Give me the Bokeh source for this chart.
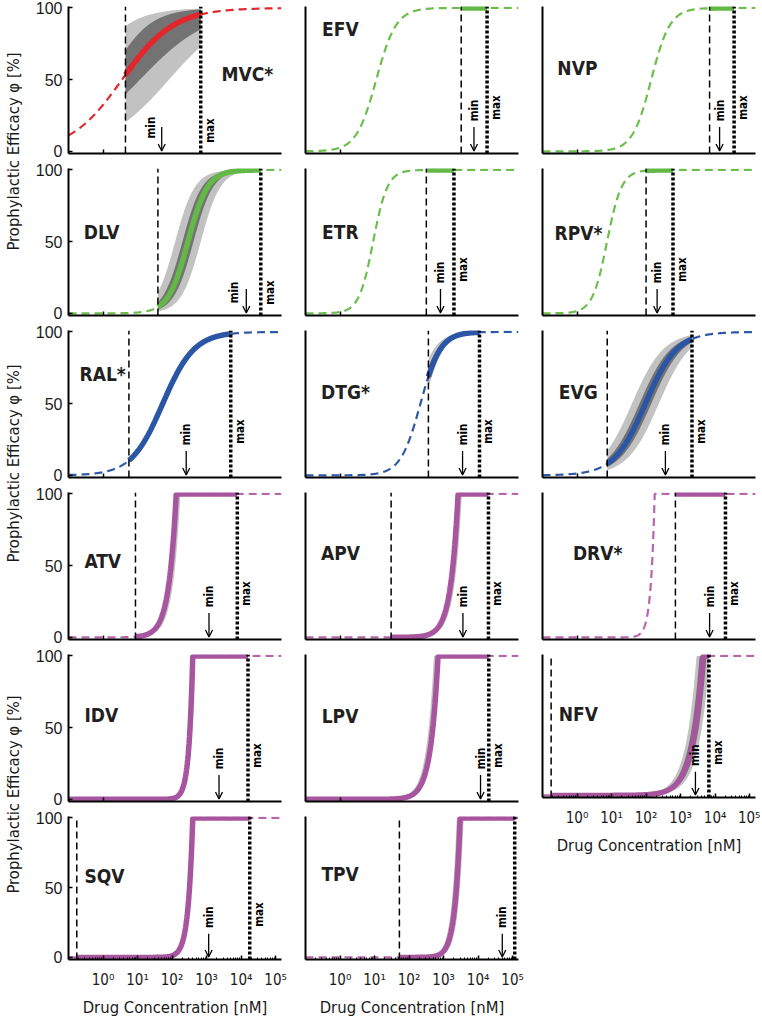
import numpy as np
from bokeh.plotting import figure
from bokeh.layouts import row, column
from bokeh.models import Range1d, FixedTicker, CustomJSTickFormatter, Arrow, OpenHead
from bokeh.core.properties import value
from bokeh.embed import file_html
from bokeh.resources import INLINE

# ---------------- data ----------------
drugs = ["MVC*", "EFV", "NVP", "DLV", "ETR", "RPV*", "RAL*", "DTG*", "EVG",
         "ATV", "APV", "DRV*", "IDV", "LPV", "NFV", "SQV", "TPV"]
drug_class = ["CCR5", "NNRTI", "NNRTI", "NNRTI", "NNRTI", "NNRTI", "INSTI", "INSTI", "INSTI",
              "PI", "PI", "PI", "PI", "PI", "PI", "PI", "PI"]
# log10 of curve midpoint [nM] (IC50 for Hill curves, saturation point for PI curves)
log_mid = [0.55, 1.05, 2.15, 2.46, 0.96, 0.87, 1.73, 2.33, 1.98,
           2.12, 3.42, 2.25, 2.60, 2.84, 3.65, 2.60, 3.48]
slope = [0.58, 1.5, 1.6, 1.52, 2.1, 2.05, 0.95, 1.5, 0.95,
         2.0, 2.0, 3.8, 3.8, 2.0, 1.4, 3.2, 2.8]
# dashed vertical line (lower conc.), dotted vertical line ("max"), arrow ("min")
log_dash_line = [0.65, 3.51, 3.84, 1.59, 2.50, 2.00, 0.75, 2.56, 0.875,
                 0.94, 1.48, 2.85, -1.4, -1.4, -0.75, -0.76, 1.72]
log_max_line = [2.83, 4.26, 4.55, 4.57, 3.30, 2.78, 3.70, 4.04, 3.33,
                3.89, 4.30, 4.30, 4.20, 4.31, 3.82, 4.25, 5.06]
log_min_arrow = [1.70, 3.88, 4.13, 4.15, 2.91, 2.32, 2.41, 3.55, 2.56,
                 3.07, 3.56, 3.84, 3.36, 4.07, 3.43, 3.06, 4.70]
# uncertainty bands: (lower-bound midpoint, slope, upper-bound midpoint, slope)
light_band = [(1.91, 0.47, -0.60, 0.67), None, None, (2.83, 1.52, 2.09, 1.52), None, None,
              (1.78, 0.95, 1.68, 0.95), (2.43, 1.5, 2.14, 1.5), (2.37, 0.95, 1.59, 0.95),
              (2.24, 2.0, 2.07, 2.0), (3.53, 2.0, 3.39, 2.0), None, (2.67, 3.8, 2.58, 3.8),
              (2.87, 2.0, 2.72, 2.0), (3.84, 1.4, 3.46, 1.4), None, (3.58, 2.8, 3.38, 2.8)]
dark_band = [(1.07, 0.43, 0.15, 0.75), None, None, (2.62, 1.52, 2.30, 1.52), None, None,
             None, (2.38, 1.5, 2.24, 1.5), (2.15, 0.95, 1.81, 0.95),
             None, None, None, None, None, (3.75, 1.4, 3.55, 1.4), None, (3.50, 2.8, 3.43, 2.8)]
x_tick_values = [1, 10, 100, 1000, 10000, 100000]
y_tick_values = [0, 50, 100]

# ---------------- layout / style (not data) ----------------
label_pos = [(3.43, 54), (-0.52, 85), (-0.57, 58), (-0.56, 57), (-0.52, 57), (-0.65, 56),
             (-0.68, 71), (-0.55, 58), (-0.53, 58), (-0.54, 53), (-0.55, 59), (-0.12, 59),
             (-0.54, 59), (-0.53, 58), (-0.53, 58), (-0.54, 58), (-0.54, 60)]
low_text = {0: (9, 6, -11), 3: (7, 6, -12)}   # panel -> (min text y, max text y, min text dx)

X0, X1 = -1.0, 5.17
Y0, Y1 = -1.5, 101
FRAME_W, FRAME_H = 213, 147
LAB_W = 30
COND = "DejaVu Sans Condensed"
REG = "Liberation Sans"
INK = "#1a1a1a"
solid_col = {"CCR5": "#e3262b", "NNRTI": "#63b846", "INSTI": "#2b56a6", "PI": "#a8559f"}
dash_col = {"CCR5": "#e3262b", "NNRTI": "#6bbd4c", "INSTI": "#2d58a8", "PI": "#b865ae"}
LIGHT, DARK = "#c2c2c2", "#737373"


def efficacy(lx, mid, m, kind):
    if kind == "PI":
        return np.minimum(100.0, 100.0 * 10 ** (m * (lx - mid)))
    return 100.0 / (1.0 + 10 ** (m * (mid - lx)))


def grid(a, b, mid, n=400):
    g = np.linspace(a, b, n)
    if a < mid < b:
        g = np.union1d(g, [mid])
    return g


def make_panel(i):
    r, c = divmod(i, 3)
    bottom = i >= 14
    lb = 38 if c == 0 else 12
    rb = 5 if c == 2 else 12
    tb = 6
    bb = 56 if bottom else 9
    p = figure(width=lb + FRAME_W + rb, height=tb + FRAME_H + bb, x_axis_type="log",
               x_range=Range1d(10 ** X0, 10 ** X1), y_range=Range1d(Y0, Y1),
               output_backend="svg", toolbar_location=None,
               min_border_left=lb, min_border_right=rb, min_border_top=tb, min_border_bottom=bb)
    p.grid.visible = False
    p.outline_line_color = None
    p.background_fill_color = "white"

    kind = "PI" if drug_class[i] == "PI" else "HILL"
    sc, dc = solid_col[drug_class[i]], dash_col[drug_class[i]]
    a = max(log_dash_line[i], X0)
    b = log_max_line[i]

    for band, colr in ((light_band[i], LIGHT), (dark_band[i], DARK)):
        if band is not None:
            g = np.linspace(a, b, 300)
            lo = efficacy(g, band[0], band[1], kind)
            hi = efficacy(g, band[2], band[3], kind)
            p.varea(x=10 ** g, y1=lo, y2=hi, fill_color=colr, fill_alpha=1.0)

    g = grid(X0, X1, log_mid[i], 600)
    p.line(10 ** g, efficacy(g, log_mid[i], slope[i], kind), line_color=dc,
           line_width=2.2, line_dash="8 5")
    g = grid(a, b, log_mid[i], 400)
    p.line(10 ** g, efficacy(g, log_mid[i], slope[i], kind), line_color=sc,
           line_width=5.5, line_cap="butt")

    p.segment(x0=[10 ** log_dash_line[i]], y0=[Y0], x1=[10 ** log_dash_line[i]], y1=[Y1],
              line_color="black", line_width=1.5, line_dash="7 4")
    p.segment(x0=[10 ** log_max_line[i]], y0=[Y0], x1=[10 ** log_max_line[i]], y1=[Y1],
              line_color="black", line_width=3.5, line_dash="3 2")

    p.add_layout(Arrow(end=OpenHead(size=7, line_width=1.3, line_color="black"),
                       x_start=10 ** log_min_arrow[i], y_start=17,
                       x_end=10 ** log_min_arrow[i], y_end=0.3,
                       line_width=1.3, line_color="black"))
    ymin_t, ymax_t, dx = low_text.get(i, (21, 22, 0))
    p.text(x=[10 ** log_min_arrow[i]], y=[ymin_t], text=["min"], angle=np.pi / 2, x_offset=dx,
           text_font=value(COND), text_font_style="bold", text_font_size="11.5px",
           text_align="left", text_baseline="middle", text_color="black")
    p.text(x=[10 ** log_max_line[i]], y=[ymax_t], text=["max"], angle=np.pi / 2, x_offset=9,
           text_font=value(COND), text_font_style="bold", text_font_size="11.5px",
           text_align="left", text_baseline="middle", text_color="black")

    lx, ly = label_pos[i]
    p.text(x=[10 ** lx], y=[ly], text=[drugs[i]], text_font=value(COND),
           text_font_style="bold", text_font_size="19px", text_align="left",
           text_baseline="middle", text_color="#231f20")

    for ax in (p.xaxis[0], p.yaxis[0]):
        ax.axis_line_width = 2
        ax.axis_line_color = "black"
        ax.major_tick_line_color = "black"
        ax.major_tick_line_width = 1.5
        ax.major_tick_in = 4
        ax.major_tick_out = 0
        ax.minor_tick_line_color = None
    yax = p.yaxis[0]
    if c == 0:
        yax.ticker = FixedTicker(ticks=y_tick_values)
        yax.major_label_text_font = REG
        yax.major_label_text_font_size = "16px"
        yax.major_label_text_color = INK
        yax.major_label_standoff = 6
    else:
        yax.ticker = FixedTicker(ticks=[50])
        yax.major_tick_line_color = None
        yax.formatter = CustomJSTickFormatter(code="return ''")
        yax.major_label_text_font_size = "2px"
        yax.major_label_standoff = 0
    xax = p.xaxis[0]
    if bottom:
        minors = [k * 10 ** e for e in range(-1, 6) for k in range(2, 10)
                  if X0 <= np.log10(k * 10 ** e) <= X1]
        xax.ticker = FixedTicker(ticks=x_tick_values, minor_ticks=minors)
        xax.minor_tick_line_color = "black"
        xax.minor_tick_in = 2
        xax.minor_tick_out = 0
        xax.formatter = CustomJSTickFormatter(code="""
            const sup = ["\u2070", "\u00b9", "\u00b2", "\u00b3", "\u2074", "\u2075"];
            const e = Math.round(Math.log10(tick));
            return "10" + (e >= 0 && e < 6 ? sup[e] : String(e));
        """)
        xax.major_label_text_font = COND
        xax.major_label_text_font_size = "15px"
        xax.major_label_text_color = INK
        xax.major_label_standoff = 11
        xax.axis_label = "Drug Concentration [nM]"
        xax.axis_label_text_font = COND
        xax.axis_label_text_font_size = "16.5px"
        xax.axis_label_text_font_style = "normal"
        xax.axis_label_text_color = INK
        xax.axis_label_standoff = 6
    else:
        xax.ticker = FixedTicker(ticks=[1])
        xax.formatter = CustomJSTickFormatter(code="return ''")
        xax.major_label_text_font_size = "2px"
        xax.major_label_standoff = 0
    return p


panels = [make_panel(i) for i in range(len(drugs))]
cols = [[panels[i] for i in range(len(drugs)) if i % 3 == c] for c in range(3)]

total_h = sum(p.height for p in cols[0])
lab = figure(width=LAB_W, height=total_h, x_range=Range1d(0, LAB_W), y_range=Range1d(0, total_h),
             output_backend="svg", toolbar_location=None, min_border=0,
             x_axis_location=None, y_axis_location=None)
lab.grid.visible = False
lab.outline_line_color = None
ylab_centers = [151, 463, 794]
lab.text(x=[13] * 3, y=[total_h - yc for yc in ylab_centers],
         text=["Prophylactic Efficacy \u03c6 [%]"] * 3, angle=np.pi / 2,
         text_font=value(COND), text_font_size="16.5px", text_align="center",
         text_baseline="middle", text_color=INK)

layout = row(lab, column(*cols[0]), column(*cols[1]), column(*cols[2]))
open("out.html", "w").write(file_html(layout, INLINE))
